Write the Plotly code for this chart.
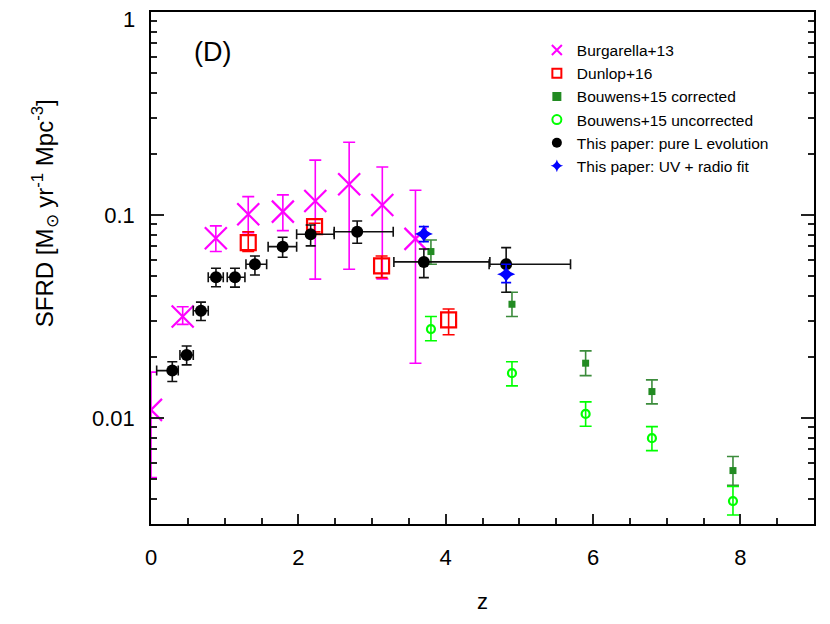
import plotly.graph_objects as go

# ---- data (SFRD vs redshift) ----

# Burgarella+13
burg_z = [0.0, 0.43, 0.88, 1.32, 1.79, 2.23, 2.69, 3.14, 3.59]
burg_y = [0.01095, 0.0316, 0.0767, 0.1008, 0.1038, 0.1172, 0.1416, 0.112, 0.0762]
burg_hi = [0.0168, 0.0353, 0.0883, 0.1231, 0.1255, 0.1862, 0.228, 0.1723, 0.1323]
burg_lo = [0.00508, 0.0289, 0.0660, 0.0818, 0.0837, 0.0483, 0.054, 0.0484, 0.0186]

# Dunlop+16
dun_z = [1.32, 2.22, 3.13, 4.04]
dun_y = [0.0731, 0.0876, 0.0561, 0.0304]
dun_hi = [0.0827, 0.0910, 0.0628, 0.0344]
dun_lo = [0.0660, 0.0825, 0.0491, 0.0257]

# Bouwens+15 corrected / uncorrected
bou_z = [3.8, 4.9, 5.9, 6.8, 7.9]
bouc_y = [0.066, 0.0363, 0.0186, 0.01348, 0.0055]
bouc_hi = [0.0753, 0.0416, 0.0214, 0.01539, 0.00645]
bouc_lo = [0.0572, 0.0316, 0.01616, 0.01172, 0.00466]
bouu_y = [0.0274, 0.0166, 0.01046, 0.00794, 0.00389]
bouu_hi = [0.0316, 0.0189, 0.01199, 0.00906, 0.00459]
bouu_lo = [0.0240, 0.01438, 0.0091, 0.0069, 0.00332]

# This paper: pure L evolution
pl_z = [0.289, 0.484, 0.678, 0.882, 1.14, 1.411, 1.787, 2.167, 2.799, 3.704, 4.821]
pl_zlo = [0.077, 0.393, 0.574, 0.777, 1.035, 1.289, 1.59, 1.977, 2.487, 3.297, 4.59]
pl_zhi = [0.37, 0.574, 0.777, 0.981, 1.275, 1.57, 1.977, 2.487, 3.288, 4.6, 5.695]
pl_y = [0.0171, 0.0204, 0.0337, 0.0493, 0.0493, 0.0572, 0.0698, 0.0803, 0.0827, 0.0587, 0.0572]
pl_hi = [0.0189, 0.0226, 0.0372, 0.0546, 0.0546, 0.0628, 0.0777, 0.0892, 0.0934, 0.068, 0.069]
pl_lo = [0.0151, 0.01824, 0.0302, 0.0443, 0.0441, 0.0506, 0.0619, 0.0704, 0.0725, 0.0491, 0.0416]

# This paper: UV + radio fit
uv_z = [3.704, 4.821]
uv_y = [0.0806, 0.051]
uv_hi = [0.0876, 0.0572]
uv_lo = [0.0739, 0.0464]

legend_names = ["Burgarella+13", "Dunlop+16", "Bouwens+15 corrected",
                "Bouwens+15 uncorrected", "This paper: pure L evolution",
                "This paper: UV + radio fit"]

FONT = "Liberation Sans, Arial, Helvetica, sans-serif"


def up(y, hi):
    return [h - v for v, h in zip(y, hi)]


def down(y, lo):
    return [v - l for v, l in zip(y, lo)]


def yerr(y, hi, lo, color, width):
    return dict(type="data", symmetric=False, array=up(y, hi), arrayminus=down(y, lo),
                color=color, thickness=1.6, width=width)


fig = go.Figure()

fig.add_trace(go.Scatter(
    x=burg_z, y=burg_y, mode="markers", showlegend=False,
    marker=dict(symbol="x-thin", size=22, line=dict(color="#ff00ff", width=2.2)),
    error_y=yerr(burg_y, burg_hi, burg_lo, "#ff00ff", 6)))

fig.add_trace(go.Scatter(
    x=dun_z, y=dun_y, mode="markers", showlegend=False,
    marker=dict(symbol="square-open", size=15, color="#ff0000", line=dict(width=2.2)),
    error_y=yerr(dun_y, dun_hi, dun_lo, "#ff0000", 6)))

fig.add_trace(go.Scatter(
    x=bou_z, y=bouc_y, mode="markers", showlegend=False,
    marker=dict(symbol="square", size=7, color="#228b22"),
    error_y=yerr(bouc_y, bouc_hi, bouc_lo, "#3c8c3c", 6)))

fig.add_trace(go.Scatter(
    x=bou_z, y=bouu_y, mode="markers", showlegend=False,
    marker=dict(symbol="circle-open", size=8, color="#00ff00", line=dict(width=2.2)),
    error_y=yerr(bouu_y, bouu_hi, bouu_lo, "#00ff00", 6)))

fig.add_trace(go.Scatter(
    x=pl_z, y=pl_y, mode="markers", showlegend=False,
    marker=dict(symbol="circle", size=12, color="black"),
    error_y=yerr(pl_y, pl_hi, pl_lo, "#111111", 5),
    error_x=dict(type="data", symmetric=False,
                 array=[h - z for z, h in zip(pl_z, pl_zhi)],
                 arrayminus=[z - l for z, l in zip(pl_z, pl_zlo)],
                 color="#111111", thickness=1.6, width=5)))

fig.add_trace(go.Scatter(
    x=uv_z, y=uv_y, mode="markers", showlegend=False,
    marker=dict(symbol="star-diamond", size=13, color="#0000ff"),
    error_y=yerr(uv_y, uv_hi, uv_lo, "#0000ff", 5)))

# legend-only entries (smaller symbols, as in the figure key)
leg_markers = [
    dict(symbol="x-thin", size=10, line=dict(color="#ff00ff", width=2)),
    dict(symbol="square-open", size=9, color="#ff0000", line=dict(width=2)),
    dict(symbol="square", size=9, color="#228b22"),
    dict(symbol="circle-open", size=9, color="#00ff00", line=dict(width=2)),
    dict(symbol="circle", size=10, color="black"),
    dict(symbol="star-diamond", size=9, color="#0000ff"),
]
for name, mk in zip(legend_names, leg_markers):
    fig.add_trace(go.Scatter(x=[None], y=[None], mode="markers", name=name, marker=mk))

fig.add_annotation(text="(D)", x=0.0935, y=0.922, xref="paper", yref="paper",
                   xanchor="center", yanchor="middle",
                   showarrow=False, font=dict(size=27, color="black", family=FONT))
# top tick label sits a little below the frame corner in the original
fig.add_annotation(text="1", x=-0.021, y=0.985, xref="paper", yref="paper",
                   xanchor="right", yanchor="middle", showarrow=False,
                   font=dict(size=22, color="black", family=FONT))
# y title (placed above centre, as in the original)
fig.add_annotation(text="SFRD [M<sub>⊙</sub> yr<sup>-1</sup> Mpc<sup>-3</sup>]",
                   x=-0.16, y=0.607, xref="paper", yref="paper", textangle=-90,
                   xanchor="center", yanchor="middle", showarrow=False,
                   font=dict(size=24, color="black", family=FONT))

y_minor = [m * 10 ** e for e in (-3, -2, -1) for m in range(2, 10) if m * 10 ** e > 0.003]

# page body adds an 8px margin, so the figure is 8px smaller than the window
fig.update_layout(
    width=822, height=616,
    margin=dict(l=143, r=16, t=4, b=100),
    paper_bgcolor="white", plot_bgcolor="white",
    font=dict(family=FONT, color="black", size=20),
    legend=dict(x=0.582, y=0.958, xanchor="left", yanchor="top",
                font=dict(size=15.5, family=FONT), bgcolor="rgba(0,0,0,0)",
                tracegroupgap=0, itemwidth=30),
    xaxis=dict(range=[0, 9], showgrid=False, zeroline=False, automargin=False,
               showline=True, linecolor="black", linewidth=1.5, mirror=True,
               ticks="inside", ticklen=10, tickwidth=1.5, tickcolor="#222",
               tickmode="array", tickvals=[0, 2, 4, 6, 8],
               ticklabelstandoff=13, tickfont=dict(size=22),
               minor=dict(tickmode="array", tickvals=[0.5, 1, 1.5, 2.5, 3, 3.5, 4.5, 5, 5.5,
                                                      6.5, 7, 7.5, 8.5],
                          ticks="inside", ticklen=6, tickwidth=1.5, tickcolor="#222"),
               title=dict(text="z", font=dict(size=22), standoff=24)),
    yaxis=dict(type="log", range=[-2.5229, 0], showgrid=False, zeroline=False,
               automargin=False,
               showline=True, linecolor="black", linewidth=1.5, mirror="ticks",
               ticks="inside", ticklen=13, tickwidth=1.5, tickcolor="#222",
               tickmode="array", tickvals=[0.01, 0.1, 1], ticktext=["0.01", "0.1", ""],
               ticklabelstandoff=10, tickfont=dict(size=22),
               minor=dict(tickmode="array", tickvals=y_minor,
                          ticks="inside", ticklen=6, tickwidth=1.5, tickcolor="#222")),
)

fig.write_html("out.html")
